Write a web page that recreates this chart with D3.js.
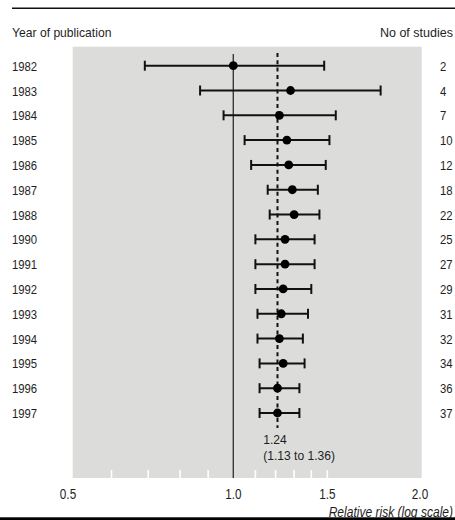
<!DOCTYPE html>
<html>
<head>
<meta charset="utf-8">
<script src="https://cdn.jsdelivr.net/npm/d3@7/dist/d3.min.js"></script>
<style>
  html, body { margin: 0; padding: 0; background: #ffffff; }
  svg { display: block; }
  text { font-family: "Liberation Sans", Arial, Helvetica, sans-serif; fill: #1e1e1e; }
</style>
</head>
<body>
<script>
// ---- Data ----
const years   = ["1982","1983","1984","1985","1986","1987","1988","1990","1991","1992","1993","1994","1995","1996","1997"];
const rr      = [1.00, 1.28, 1.22, 1.26, 1.27, 1.29, 1.30, 1.25, 1.25, 1.24, 1.23, 1.22, 1.24, 1.21, 1.21];
const lower   = [0.69, 0.87, 0.96, 1.05, 1.08, 1.16, 1.17, 1.10, 1.10, 1.10, 1.11, 1.11, 1.12, 1.12, 1.12];
const upper   = [1.48, 1.77, 1.54, 1.51, 1.49, 1.44, 1.45, 1.42, 1.42, 1.40, 1.38, 1.35, 1.36, 1.33, 1.33];
const studies = [2, 4, 7, 10, 12, 18, 22, 25, 27, 29, 31, 32, 34, 36, 37];
const pooledLabel = ["1.24", "(1.13 to 1.36)"];
const axisTicks  = [0.5, 1.0, 1.5, 2.0];
const minorTicks = [0.6, 0.7, 0.8, 0.9, 1.1, 1.2, 1.3, 1.4, 1.5];
const titles = { left: "Year of publication", right: "No of studies", axis: "Relative risk (log scale)" };

// ---- Layout ----
const W = 455, H = 520;
const panel = { x0: 72.7, x1: 421.7, y0: 46.7, y1: 478 };

const svg = d3.select("body").append("svg").attr("width", W).attr("height", H);

const x = d3.scaleLog().domain([0.5, 1, 1.5, 2]).range([68, 233.3, 327.3, 420]);
const y = d3.scalePoint().domain(years).range([65.7, 413]);
const pooled = rr[rr.length - 1];

// condensed text helper (narrow sans look)
function place(sel, fx, fy, sx) {
  return sel.attr("transform", (d, i) => `translate(${fx(d, i)},${fy(d, i)}) scale(${sx},1)`);
}

// top rule
svg.append("line").attr("x1", 12).attr("x2", W).attr("y1", 8.3).attr("y2", 8.3)
  .attr("stroke", "#111").attr("stroke-width", 1.4);

// panel
svg.append("rect").attr("x", panel.x0).attr("y", panel.y0)
  .attr("width", panel.x1 - panel.x0).attr("height", panel.y1 - panel.y0)
  .attr("fill", "#dcdddb");

// minor ticks (white)
svg.append("g").selectAll("line").data(minorTicks).join("line")
  .attr("x1", d => x(d)).attr("x2", d => x(d))
  .attr("y1", panel.y1 - 8).attr("y2", panel.y1)
  .attr("stroke", "#ffffff").attr("stroke-width", 1.6);

// line of no effect
svg.append("line").attr("x1", x(1)).attr("x2", x(1))
  .attr("y1", 54).attr("y2", panel.y1)
  .attr("stroke", "#3a3a3a").attr("stroke-width", 1.4);

// pooled estimate dashed line
svg.append("line").attr("x1", x(pooled)).attr("x2", x(pooled))
  .attr("y1", 53).attr("y2", 428)
  .attr("stroke", "#111").attr("stroke-width", 2).attr("stroke-dasharray", "4,3.3");

// error bars
const rows = years.map((yr, i) => ({ yr, rr: rr[i], lo: lower[i], hi: upper[i], n: studies[i] }));
const g = svg.append("g");
g.selectAll("line.ci").data(rows).join("line").attr("class", "ci")
  .attr("x1", d => x(d.lo)).attr("x2", d => x(d.hi))
  .attr("y1", d => y(d.yr)).attr("y2", d => y(d.yr))
  .attr("stroke", "#111").attr("stroke-width", 2);
g.selectAll("line.capl").data(rows).join("line").attr("class", "capl")
  .attr("x1", d => x(d.lo)).attr("x2", d => x(d.lo))
  .attr("y1", d => y(d.yr) - 5).attr("y2", d => y(d.yr) + 5)
  .attr("stroke", "#111").attr("stroke-width", 2);
g.selectAll("line.caph").data(rows).join("line").attr("class", "caph")
  .attr("x1", d => x(d.hi)).attr("x2", d => x(d.hi))
  .attr("y1", d => y(d.yr) - 5).attr("y2", d => y(d.yr) + 5)
  .attr("stroke", "#111").attr("stroke-width", 2);
g.selectAll("circle").data(rows).join("circle")
  .attr("cx", d => x(d.rr)).attr("cy", d => y(d.yr)).attr("r", 4.4)
  .attr("fill", "#000");

// headers
place(svg.append("text").datum(0).attr("font-size", 13.2).text(titles.left), () => 12, () => 37, 0.92);
place(svg.append("text").datum(0).attr("font-size", 13.2).attr("text-anchor", "end").text(titles.right), () => 453, () => 37, 0.95);

// year labels
place(svg.append("g").selectAll("text").data(rows).join("text")
  .attr("font-size", 13).text(d => d.yr), () => 12, d => y(d.yr) + 5, 0.87);

// study counts
place(svg.append("g").selectAll("text").data(rows).join("text")
  .attr("font-size", 13).text(d => d.n), () => 440, d => y(d.yr) + 5, 0.87);

// pooled label
place(svg.append("g").selectAll("text").data(pooledLabel).join("text")
  .attr("font-size", 13).text(d => d), () => x(pooled) - 14.3, (d, i) => 443.5 + i * 16.5, 0.93);

// axis labels
place(svg.append("g").selectAll("text").data(axisTicks).join("text")
  .attr("text-anchor", "middle").attr("font-size", 14)
  .text(d => d3.format(".1f")(d)), d => x(d), () => 498.5, 0.84);

// axis title
place(svg.append("text").datum(0).attr("text-anchor", "end").attr("font-size", 14)
  .attr("font-style", "italic").text(titles.axis), () => 453, () => 517, 0.86);

// bottom bar
svg.append("rect").attr("x", 0).attr("y", 517.3).attr("width", W).attr("height", 2.7).attr("fill", "#000");
</script>
</body>
</html>
